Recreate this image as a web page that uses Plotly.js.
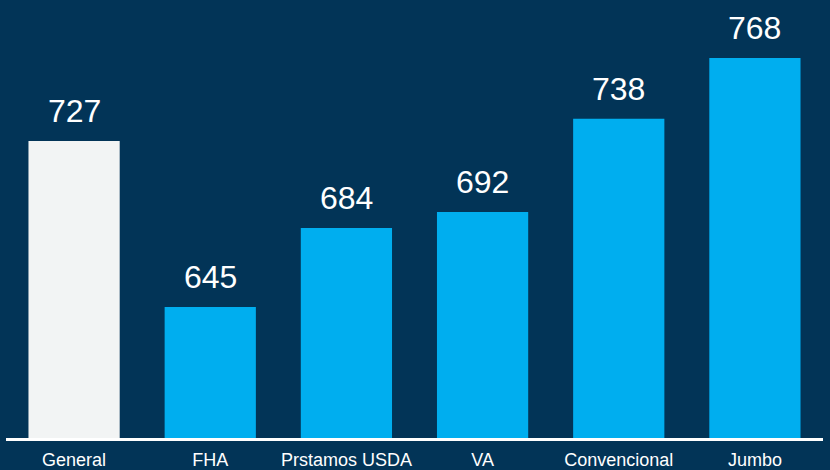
<!DOCTYPE html>
<html>
<head>
<meta charset="utf-8">
<script src="https://cdn.plot.ly/plotly-3.0.1.min.js"></script>
<style>html,body{margin:0;padding:0;background:#023457;}#chart{width:830px;height:470px;}</style>
</head>
<body>
<div id="chart"></div>
<script>
const categories = ["General", "FHA", "Prstamos USDA", "VA", "Convencional", "Jumbo"];
const scores = [727, 645, 684, 692, 738, 768];
const barColors = ["#f2f4f4", "#00aeef", "#00aeef", "#00aeef", "#00aeef", "#00aeef"];

const annotations = categories.map((c, i) => ({
  x: c, y: scores[i], xref: "x", yref: "y",
  text: String(scores[i]), showarrow: false,
  yanchor: "bottom", yshift: 11, borderpad: 0,
  font: {family: "Liberation Sans, Arial, sans-serif", size: 32, color: "#ffffff"}
}));

Plotly.newPlot("chart", [{
  type: "bar", x: categories, y: scores,
  marker: {color: barColors, line: {width: 0}},
  hoverinfo: "none"
}], {
  width: 830, height: 470,
  margin: {l: 6, r: 7, t: 0, b: 32, pad: 0},
  paper_bgcolor: "#023457", plot_bgcolor: "#023457",
  bargap: 0.33,
  showlegend: false,
  xaxis: {
    showline: true, linecolor: "#ffffff", linewidth: 3,
    showgrid: false, zeroline: false, ticks: "",
    ticklabelstandoff: 3,
    tickfont: {family: "Liberation Sans, Arial, sans-serif", size: 18, color: "#ffffff"},
    fixedrange: true
  },
  yaxis: {
    range: [580.3, 796.7], visible: false, showgrid: false, zeroline: false, fixedrange: true
  },
  annotations: annotations
}, {displayModeBar: false, staticPlot: true});
</script>
</body>
</html>
